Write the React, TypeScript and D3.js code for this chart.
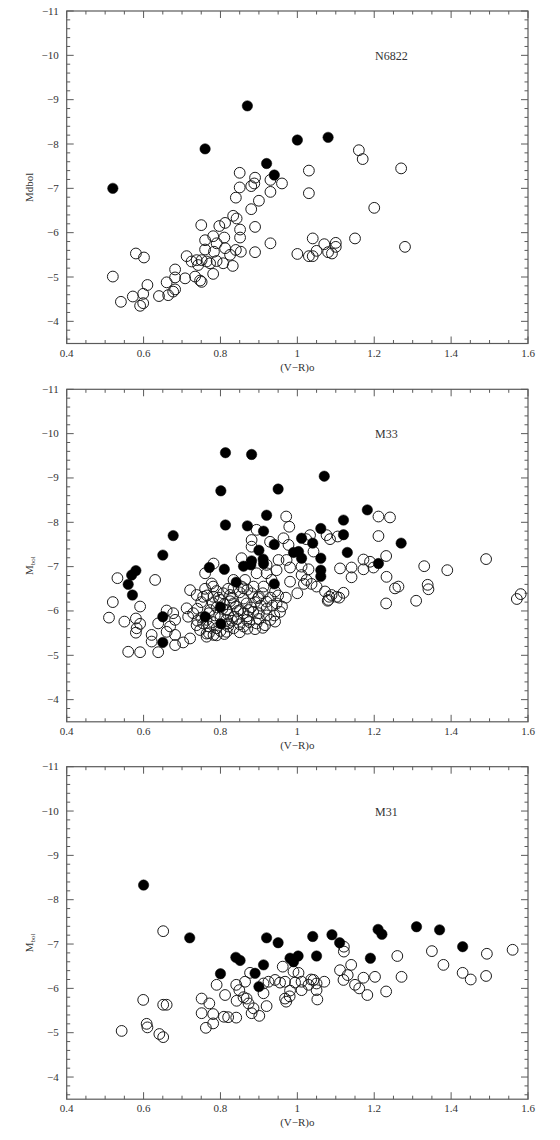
import React from "react";
import * as d3 from "d3";

type Pt = [number, number];

// X domain / ticks
const X_DOMAIN: [number, number] = [0.4, 1.6];
const Y_DOMAIN: [number, number] = [-11, -3.5];
const X_TICK_LABELS = [0.4, 0.6, 0.8, 1, 1.2, 1.4, 1.6];
const Y_TICK_LABELS = [-11, -10, -9, -8, -7, -6, -5, -4];

// ---------- N6822 ----------
const N6822_FILLED: Pt[] = [
  [0.52, -7.0], [0.76, -7.89], [0.87, -8.86], [0.92, -7.56], [0.94, -7.3], [1.0, -8.09], [1.08, -8.15],
];
const N6822_OPEN: Pt[] = [
  [0.85, -7.35], [0.89, -7.24], [0.888, -7.11], [0.88, -7.05], [0.85, -7.02], [0.93, -7.19], [0.96, -7.11],
  [0.93, -6.92], [0.84, -6.79], [0.9, -6.72], [0.88, -6.53], [0.75, -6.17], [0.833, -6.38], [0.842, -6.32],
  [0.812, -6.22], [0.797, -6.15], [0.851, -6.07], [0.89, -6.13], [0.781, -5.92], [0.76, -5.83], [0.81, -5.89],
  [0.851, -5.89], [0.79, -5.76], [0.76, -5.62], [0.783, -5.57], [0.812, -5.65], [0.84, -5.61], [0.853, -5.57],
  [0.89, -5.56], [0.93, -5.76], [0.825, -5.5], [0.807, -5.31], [0.832, -5.25], [0.79, -5.36], [0.773, -5.31],
  [0.712, -5.47], [0.725, -5.35], [0.738, -5.38], [0.751, -5.38], [0.764, -5.35], [0.742, -5.27], [0.682, -5.17],
  [0.682, -4.99], [0.708, -4.97], [0.734, -5.01], [0.747, -4.92], [0.751, -4.89], [0.781, -5.07], [0.682, -4.72],
  [0.677, -4.67], [0.66, -4.88], [0.64, -4.57], [0.664, -4.59], [0.61, -4.82], [0.599, -4.62], [0.599, -4.41],
  [0.591, -4.35], [0.572, -4.56], [0.541, -4.44], [0.52, -5.01], [0.58, -5.53], [0.601, -5.44],
  [1.16, -7.86], [1.17, -7.66], [1.27, -7.45], [1.03, -7.4], [1.03, -6.89], [1.2, -6.56], [1.04, -5.87],
  [1.15, -5.87], [1.07, -5.74], [1.1, -5.77], [1.1, -5.68], [1.28, -5.68], [1.0, -5.52], [1.05, -5.59],
  [1.03, -5.47], [1.04, -5.47], [1.08, -5.56], [1.09, -5.53],
];

// ---------- M33 ----------
const M33_FILLED: Pt[] = [
  [0.813, -9.57], [0.881, -9.53], [0.801, -8.71], [0.95, -8.75], [1.07, -9.04], [0.813, -7.94], [0.87, -7.92],
  [0.92, -8.16], [0.912, -7.8], [0.94, -7.5], [0.677, -7.7], [0.65, -7.26], [0.58, -6.91], [0.569, -6.81],
  [0.56, -6.6], [0.571, -6.36], [0.771, -6.98], [0.81, -6.94], [0.86, -7.01], [0.879, -7.04], [0.881, -7.13],
  [0.9, -7.37], [0.911, -7.17], [0.912, -7.07], [0.841, -6.65], [0.94, -6.61], [0.8, -6.09], [0.76, -5.87],
  [0.801, -5.71], [0.65, -5.87], [0.65, -5.29], [1.182, -8.28], [1.12, -8.05], [1.12, -7.72], [1.061, -7.86],
  [1.011, -7.64], [1.04, -7.53], [1.13, -7.32], [1.27, -7.53], [0.99, -7.32], [1.003, -7.34], [1.011, -7.19],
  [1.061, -7.19], [1.061, -6.92], [1.061, -6.78], [1.211, -7.07],
];
const M33_OPEN: Pt[] = [
  [0.532, -6.74], [0.63, -6.7], [0.52, -6.2], [0.51, -5.85], [0.55, -5.76], [0.591, -6.1], [0.58, -5.83],
  [0.591, -5.71], [0.582, -5.61], [0.58, -5.51], [0.56, -5.08], [0.591, -5.07], [0.638, -5.07], [0.621, -5.46],
  [0.621, -5.31], [0.638, -5.72], [0.66, -6.01], [0.677, -5.95], [0.682, -5.8], [0.669, -5.65], [0.66, -5.53],
  [0.682, -5.46], [0.682, -5.23], [0.703, -5.29], [0.721, -5.38], [0.716, -5.87], [0.721, -6.47], [0.738, -6.36],
  [0.712, -6.06], [0.729, -5.95], [0.76, -6.85], [0.782, -7.07], [0.777, -6.62], [0.755, -6.32], [0.782, -6.32],
  [0.738, -5.68], [0.747, -5.57], [0.764, -5.49], [0.782, -5.46], [0.79, -5.61], [0.825, -6.36], [0.855, -7.19],
  [0.881, -7.6], [0.881, -7.45], [0.834, -6.7], [0.855, -6.55], [0.881, -6.4], [0.816, -6.02], [0.834, -5.87],
  [0.851, -6.02], [0.868, -5.8], [0.82, -5.72], [0.834, -5.61], [0.773, -6.02], [0.764, -5.8], [0.799, -6.25],
  [0.868, -6.17], [0.885, -5.98], [0.894, -5.72], [0.864, -6.7], [0.894, -6.85], [0.894, -7.83],
  [0.971, -8.13], [0.979, -7.9], [0.929, -7.56], [0.964, -7.64], [0.977, -7.49], [1.033, -7.71], [1.023, -7.62],
  [1.076, -7.71], [1.085, -7.62], [1.105, -7.68], [1.211, -8.13], [1.241, -8.11], [1.211, -7.69], [1.042, -7.34],
  [0.951, -7.15], [0.972, -7.15], [0.981, -6.98], [1.011, -7.0], [1.029, -6.94], [1.011, -6.81], [1.024, -6.7],
  [1.017, -6.61], [1.037, -6.61], [0.981, -6.66], [1.05, -6.55], [1.072, -6.44], [1.089, -6.36], [1.079, -6.23],
  [1.102, -6.32], [1.12, -6.41], [1.111, -6.96], [1.141, -6.98], [1.172, -7.16], [1.141, -6.76], [1.172, -6.94],
  [1.198, -6.98], [1.231, -7.24], [1.232, -6.77], [1.254, -6.51], [1.231, -6.17], [0.946, -6.92], [0.92, -7.04],
  [0.933, -6.7], [0.912, -6.55], [0.942, -6.44], [0.898, -6.29], [0.92, -6.21], [0.946, -6.17], [0.955, -5.98],
  [0.942, -5.76], [0.916, -5.68], [0.89, -5.59], [0.816, -5.53], [0.764, -5.42], [0.873, -6.02], [0.834, -6.17],
  [0.886, -6.55], [0.86, -6.51], [0.834, -6.51], [0.781, -6.55], [0.807, -6.4], [0.92, -6.85],
  [1.083, -6.32], [1.109, -6.3], [1.081, -6.25], [1.189, -7.11], [1.263, -6.55], [1.309, -6.23], [1.33, -7.01],
  [1.339, -6.59], [1.341, -6.49], [1.39, -6.92], [1.491, -7.17], [1.571, -6.27], [1.581, -6.38],
  [0.76, -6.5], [0.79, -6.45], [0.82, -6.5], [0.85, -6.42], [0.87, -6.48], [0.91, -6.4],
  [0.75, -6.2], [0.78, -6.18], [0.81, -6.15], [0.83, -6.3], [0.86, -6.28], [0.89, -6.2], [0.93, -6.3], [0.95, -6.35],
  [0.74, -6.05], [0.77, -5.95], [0.79, -6.08], [0.82, -5.92], [0.84, -6.1], [0.86, -5.95], [0.88, -6.08],
  [0.9, -5.95], [0.92, -6.05], [0.94, -5.9], [0.75, -5.85], [0.78, -5.75], [0.8, -5.85], [0.83, -5.78],
  [0.85, -5.7], [0.87, -5.88], [0.9, -5.82], [0.92, -5.9], [0.77, -5.65], [0.8, -5.55], [0.82, -5.65],
  [0.85, -5.52], [0.87, -5.6], [0.91, -5.62], [0.79, -5.45], [0.81, -5.48], [0.77, -5.5], [0.97, -6.3],
  [0.96, -6.1], [1.0, -6.4],
  [0.765, -6.35], [0.795, -6.3], [0.825, -6.22], [0.845, -6.0], [0.875, -5.75], [0.905, -6.12], [0.935, -6.12],
  [0.785, -5.9], [0.815, -5.8], [0.845, -5.82], [0.805, -6.05], [0.755, -5.72], [0.86, -5.65], [0.9, -6.32],
  [0.93, -5.8], [0.74, -5.78],
];

// ---------- M31 ----------
const M31_FILLED: Pt[] = [
  [0.6, -8.33], [0.72, -7.14], [0.8, -6.33], [0.84, -6.7], [0.851, -6.63], [0.89, -6.34], [0.9, -6.04],
  [0.912, -6.53], [0.92, -7.14], [0.95, -7.03], [0.981, -6.68], [0.99, -6.6], [1.002, -6.73], [1.04, -7.17],
  [1.05, -6.73], [1.09, -7.21], [1.11, -7.03], [1.19, -6.68], [1.21, -7.33], [1.22, -7.22], [1.31, -7.39],
  [1.37, -7.32], [1.43, -6.94],
];
const M31_OPEN: Pt[] = [
  [0.651, -7.29], [0.599, -5.74], [0.651, -5.63], [0.66, -5.63], [0.543, -5.04], [0.608, -5.2], [0.61, -5.12],
  [0.641, -4.97], [0.651, -4.9], [0.751, -5.77], [0.751, -5.44], [0.771, -5.66], [0.781, -5.42], [0.781, -5.21],
  [0.762, -5.11], [0.79, -6.08], [0.812, -5.85], [0.809, -5.36], [0.82, -5.35], [0.841, -5.34], [0.841, -6.08],
  [0.842, -5.72], [0.849, -5.96], [0.864, -6.15], [0.86, -5.8], [0.868, -5.77], [0.873, -5.66], [0.881, -5.44],
  [0.901, -5.38], [0.877, -6.35], [0.92, -5.6], [0.912, -6.11], [0.912, -5.89], [0.925, -6.15], [0.942, -6.19],
  [0.962, -6.49], [0.968, -6.15], [0.968, -5.77], [0.971, -5.7], [0.981, -5.95], [0.99, -6.38], [1.003, -6.35],
  [0.994, -6.13], [1.011, -6.15], [1.011, -5.96], [1.029, -6.08], [1.036, -6.2], [1.042, -6.19], [1.05, -5.96],
  [1.052, -5.75], [1.05, -6.11], [1.07, -6.15], [1.111, -6.41], [1.121, -6.94], [1.121, -6.83], [1.12, -6.19],
  [1.131, -6.3], [1.14, -6.53], [1.15, -6.08], [1.161, -6.0], [1.172, -6.24], [1.182, -5.85], [1.202, -6.26],
  [1.231, -5.93], [1.26, -6.73], [1.271, -6.26], [1.35, -6.84], [1.38, -6.53], [1.43, -6.35], [1.451, -6.2],
  [1.493, -6.78], [1.491, -6.28], [1.56, -6.87], [0.886, -5.55], [0.955, -6.13], [0.98, -5.82],
];

const PANELS = [
  { name: "N6822", yTitle: "Mdbol", sub: false, open: N6822_OPEN, filled: N6822_FILLED },
  { name: "M33", yTitle: "M", sub: true, open: M33_OPEN, filled: M33_FILLED },
  { name: "M31", yTitle: "M", sub: true, open: M31_OPEN, filled: M31_FILLED },
];

const W = 560;
const H = 1140;
const LEFT = 66.7;
const RIGHT = 528;
const TOPS = [11, 389.3, 766.7];
const PH = 332.5;
const FONT = "'Liberation Serif', 'DejaVu Serif', serif";
const AXIS_COLOR = "#5a5a5a";
const TEXT_COLOR = "#333";

const fmtX = (v: number) => (Number.isInteger(v) ? String(v) : v.toFixed(1));
const fmtY = (v: number) => (v < 0 ? "\u2212" + Math.abs(v) : String(v));

function Panel({ top, panel }: { top: number; panel: (typeof PANELS)[number] }) {
  const x = d3.scaleLinear().domain(X_DOMAIN).range([LEFT, RIGHT]);
  const y = d3.scaleLinear().domain(Y_DOMAIN).range([top, top + PH]);
  const bottom = top + PH;
  const xMinor = d3.range(0.4, 1.6001, 0.05).map((v) => +v.toFixed(2));
  const yMinor = d3.range(-11, -3.49, 0.2).map((v) => +v.toFixed(2));
  const isXMajor = (v: number) => Math.abs(v * 5 - Math.round(v * 5)) < 1e-6;
  const isYMajor = (v: number) => Math.abs(v - Math.round(v)) < 1e-6;
  const midY = top + PH / 2 + 10;

  return (
    <g>
      <rect x={LEFT} y={top} width={RIGHT - LEFT} height={PH} fill="none" stroke={AXIS_COLOR} strokeWidth={1.2} />
      {xMinor.map((v) => {
        const len = isXMajor(v) ? 7 : 3.5;
        const px = x(v);
        return (
          <g key={"xt" + v}>
            <line x1={px} x2={px} y1={bottom} y2={bottom - len} stroke={AXIS_COLOR} />
            <line x1={px} x2={px} y1={top} y2={top + len} stroke={AXIS_COLOR} />
          </g>
        );
      })}
      {yMinor.map((v) => {
        const len = isYMajor(v) ? 7 : 3.5;
        const py = y(v);
        return (
          <g key={"yt" + v}>
            <line x1={LEFT} x2={LEFT + len} y1={py} y2={py} stroke={AXIS_COLOR} />
            <line x1={RIGHT} x2={RIGHT - len} y1={py} y2={py} stroke={AXIS_COLOR} />
          </g>
        );
      })}
      {X_TICK_LABELS.map((v) => (
        <text key={"xl" + v} x={x(v)} y={bottom + 13} textAnchor="middle" fontSize={11} fontFamily={FONT} fill={TEXT_COLOR}>
          {fmtX(v)}
        </text>
      ))}
      {Y_TICK_LABELS.map((v) => (
        <text key={"yl" + v} x={LEFT - 8} y={y(v) + 3.5} textAnchor="end" fontSize={11} fontFamily={FONT} fill={TEXT_COLOR}>
          {fmtY(v)}
        </text>
      ))}
      <text x={(LEFT + RIGHT) / 2} y={bottom + 27} textAnchor="middle" fontSize={11} fontFamily={FONT} fill={TEXT_COLOR}>
        (V{"\u2212"}R)o
      </text>
      <text
        transform={`translate(${33},${midY}) rotate(-90)`}
        textAnchor="middle"
        fontSize={11}
        fontFamily={FONT}
        fill={TEXT_COLOR}
      >
        {panel.sub ? (
          <>
            M<tspan fontSize={7} dy={2}>bol</tspan>
          </>
        ) : (
          panel.yTitle
        )}
      </text>
      <text x={375} y={top + 49} fontSize={12} fontFamily={FONT} fill={TEXT_COLOR}>
        {panel.name}
      </text>
      <g>
        {panel.open.map((d, i) => (
          <circle key={"o" + i} cx={x(d[0])} cy={y(d[1])} r={5.4} fill="none" stroke="#1a1a1a" strokeWidth={1} />
        ))}
        {panel.filled.map((d, i) => (
          <circle key={"f" + i} cx={x(d[0])} cy={y(d[1])} r={5.2} fill="#000" stroke="#000" strokeWidth={0.5} />
        ))}
      </g>
    </g>
  );
}

export default function App() {
  return (
    <svg
      width={W}
      height={H}
      viewBox={`0 0 ${W} ${H}`}
      style={{ position: "absolute", left: 0, top: 0, background: "#fff" }}
    >
      <rect x={0} y={0} width={W} height={H} fill="#fff" />
      {PANELS.map((p, i) => (
        <Panel key={p.name} top={TOPS[i]} panel={p} />
      ))}
    </svg>
  );
}
